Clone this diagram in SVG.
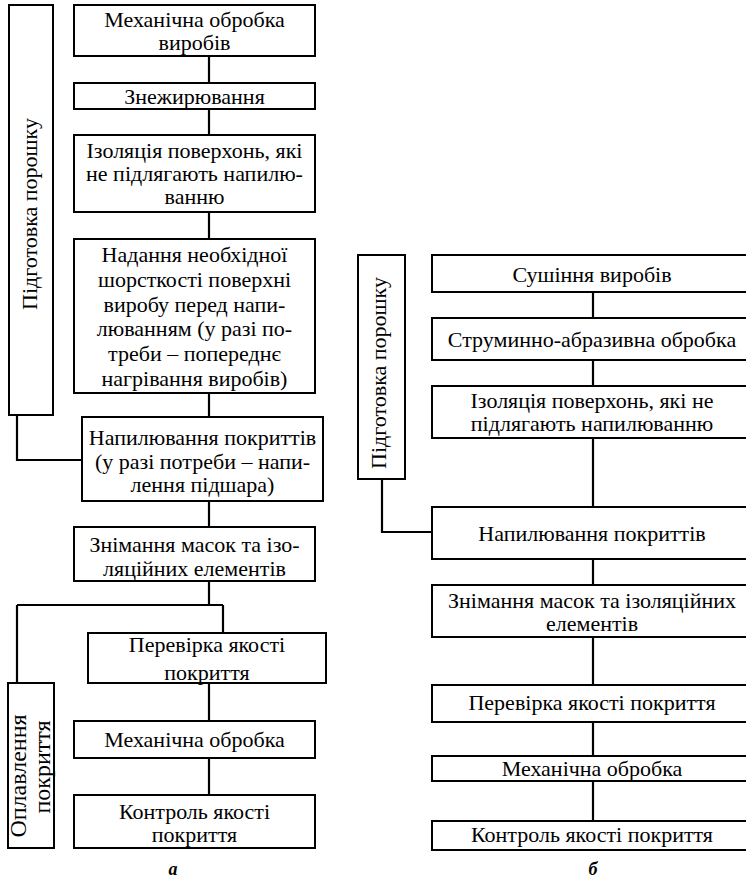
<svg xmlns="http://www.w3.org/2000/svg" width="746" height="878" viewBox="0 0 746 878">
<style>
.box{fill:#fff;stroke:#000;stroke-width:2}
.ln{fill:none;stroke:#000;stroke-width:2.2}
.t{font-family:"Liberation Serif","Times New Roman","DejaVu Serif",serif;font-size:22px;text-anchor:middle;fill:#000}
.big{font-size:24px}
.lbl{font-family:"Liberation Serif","Times New Roman","DejaVu Serif",serif;font-size:18px;font-style:italic;font-weight:bold;text-anchor:middle;fill:#000}
</style>
<rect width="746" height="878" fill="#fff"/>
<g id="connectors">
<path class="ln" d="M209,56V83M209,109V135M209,212V239M209,393V417M209,501V527M209,581V605M17,605H223M223,605V633M17,605V683M209,683V721M209,758V795"/>
<path class="ln" d="M17,415V460H82"/>
<path class="ln" d="M593,292V318M593,360V386M593,438V507M593,559V585M593,637V685M593,722V756M593,781V821"/>
<path class="ln" d="M382,479V532H432"/>
</g>
<g id="a-prep">
<rect class="box" x="9" y="5" width="44" height="410"/>
<text class="t" transform="translate(37,214) rotate(-90)">Підготовка порошку</text>
</g>
<g id="a1">
<rect class="box" x="74" y="5" width="241" height="51"/>
<text class="t" x="194.5" y="27">Механічна обробка</text>
<text class="t" x="194.5" y="50">виробів</text>
</g>
<g id="a2">
<rect class="box" x="74" y="83" width="241" height="26"/>
<text class="t" x="194.5" y="104">Знежирювання</text>
</g>
<g id="a3">
<rect class="box" x="74" y="135" width="241" height="77"/>
<text class="t" x="194.5" y="158">Ізоляція поверхонь, які</text>
<text class="t" x="194.5" y="181">не підлягають напилю-</text>
<text class="t" x="194.5" y="204">ванню</text>
</g>
<g id="a4">
<rect class="box" x="74" y="239" width="241" height="154"/>
<text class="t" x="194.5" y="262">Надання необхідної</text>
<text class="t" x="194.5" y="287">шорсткості поверхні</text>
<text class="t" x="194.5" y="312">виробу перед напи-</text>
<text class="t" x="194.5" y="336">люванням (у разі по-</text>
<text class="t" x="194.5" y="361">треби – попереднє</text>
<text class="t" x="194.5" y="386">нагрівання виробів)</text>
</g>
<g id="a5">
<rect class="box" x="82" y="417" width="241" height="84"/>
<text class="t" x="202.5" y="445">Напилювання покриттів</text>
<text class="t" x="202.5" y="469">(у разі потреби – напи-</text>
<text class="t" x="202.5" y="492">лення підшара)</text>
</g>
<g id="a6">
<rect class="box" x="74" y="527" width="241" height="54"/>
<text class="t" x="194.5" y="552">Знімання масок та ізо-</text>
<text class="t" x="194.5" y="576">ляційних елементів</text>
</g>
<g id="a-melt">
<rect class="box" x="8" y="683" width="46" height="165"/>
<text class="t big" transform="translate(26,776) rotate(-90)">Оплавлення</text>
<text class="t big" transform="translate(50,767) rotate(-90)">покриття</text>
</g>
<g id="a7">
<rect class="box" x="88" y="633" width="238" height="50"/>
<text class="t" x="207" y="652">Перевірка якості</text>
<text class="t" x="207" y="680">покриття</text>
</g>
<g id="a8">
<rect class="box" x="74" y="721" width="241" height="37"/>
<text class="t" x="194.5" y="747">Механічна обробка</text>
</g>
<g id="a9">
<rect class="box" x="74" y="795" width="241" height="53"/>
<text class="t" x="194.5" y="819">Контроль якості</text>
<text class="t" x="194.5" y="842">покриття</text>
</g>
<text class="lbl" x="173" y="875">а</text>
<g id="b-prep">
<rect class="box" x="358" y="255" width="47" height="224"/>
<text class="t" transform="translate(386,373) rotate(-90)">Підготовка порошку</text>
</g>
<g id="b1">
<rect class="box" x="432" y="255" width="320" height="37"/>
<text class="t" x="592" y="282">Сушіння виробів</text>
</g>
<g id="b2">
<rect class="box" x="432" y="318" width="320" height="42"/>
<text class="t" x="592" y="347">Струминно-абразивна обробка</text>
</g>
<g id="b3">
<rect class="box" x="432" y="386" width="320" height="52"/>
<text class="t" x="592" y="408">Ізоляція поверхонь, які не</text>
<text class="t" x="592" y="431">підлягають напилюванню</text>
</g>
<g id="b4">
<rect class="box" x="432" y="507" width="320" height="52"/>
<text class="t" x="592" y="541">Напилювання покриттів</text>
</g>
<g id="b5">
<rect class="box" x="432" y="585" width="320" height="52"/>
<text class="t" x="592" y="608">Знімання масок та ізоляційних</text>
<text class="t" x="592" y="631">елементів</text>
</g>
<g id="b6">
<rect class="box" x="432" y="685" width="320" height="37"/>
<text class="t" x="592" y="710">Перевірка якості покриття</text>
</g>
<g id="b7">
<rect class="box" x="432" y="756" width="320" height="25"/>
<text class="t" x="592" y="776">Механічна обробка</text>
</g>
<g id="b8">
<rect class="box" x="432" y="821" width="320" height="29"/>
<text class="t" x="592" y="842">Контроль якості покриття</text>
</g>
<text class="lbl" x="593" y="875">б</text>
</svg>
